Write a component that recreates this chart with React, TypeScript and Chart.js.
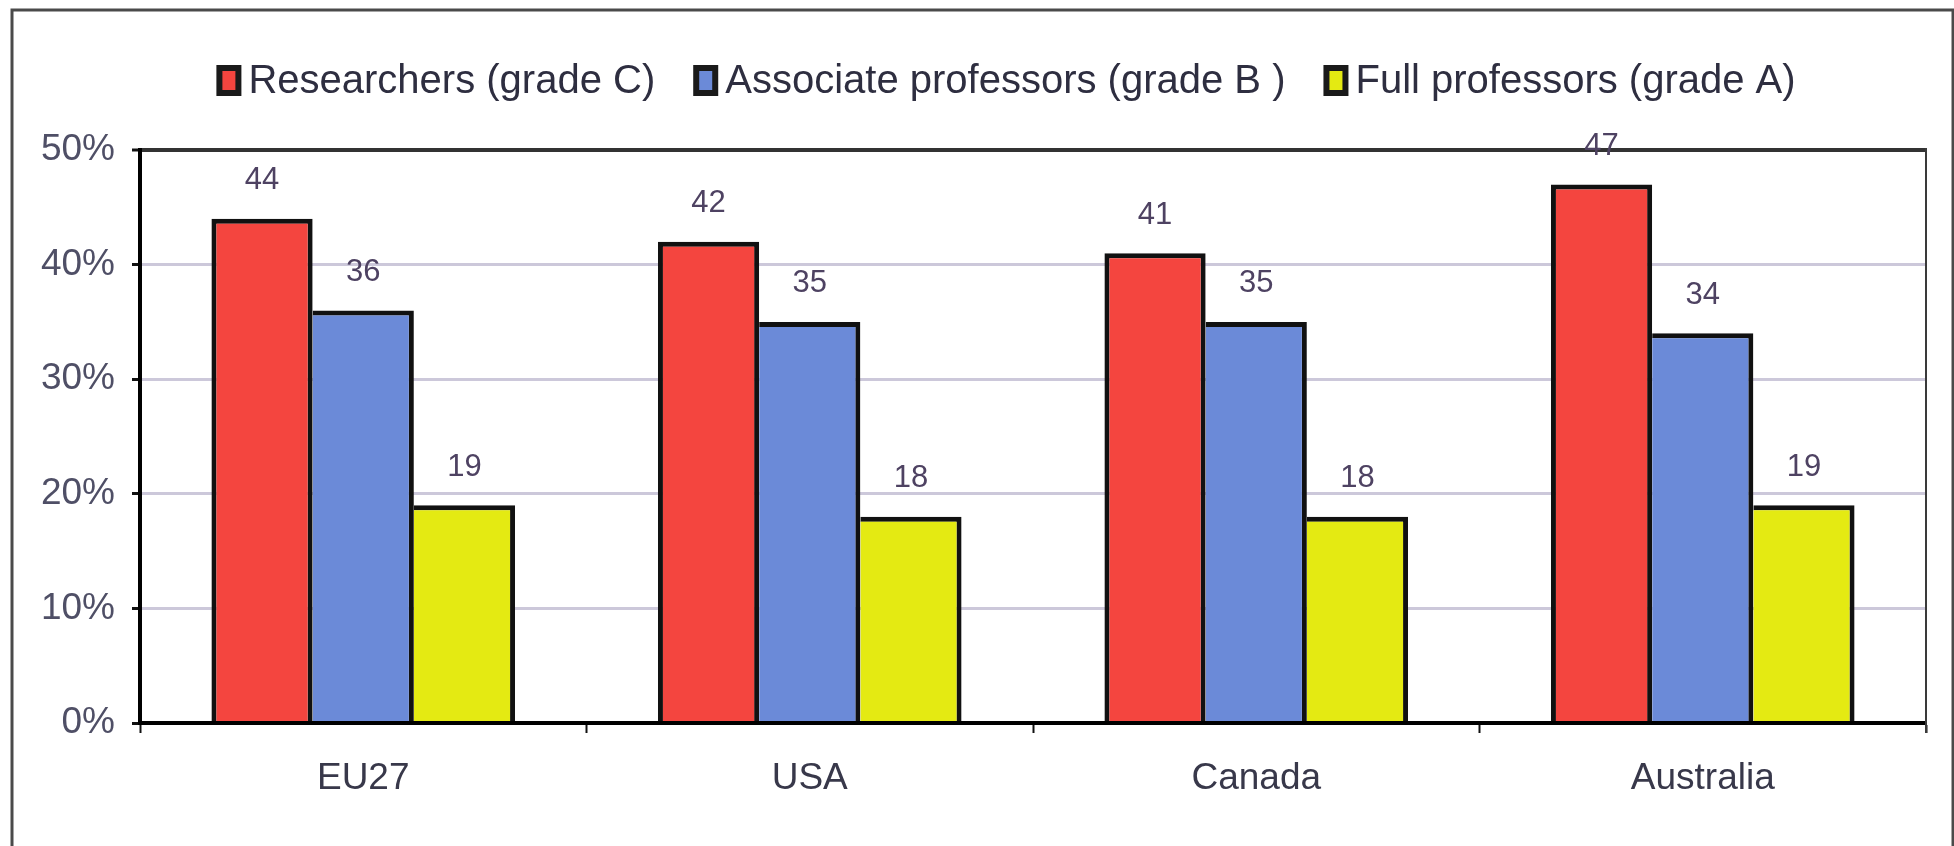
import React, { useEffect, useRef } from "react";
import { Chart, registerables } from "chart.js";

Chart.register(...registerables);

const categories = ["EU27", "USA", "Canada", "Australia"];
const seriesLabels = [
  "Researchers (grade C)",
  "Associate professors (grade B )",
  "Full professors (grade A)",
];
const researchers = [44, 42, 41, 47];
const associateProfessors = [36, 35, 35, 34];
const fullProfessors = [19, 18, 18, 19];
const yTickValues = [0, 10, 20, 30, 40, 50];
const yTickLabels = ["0%", "10%", "20%", "30%", "40%", "50%"];

const FONT = '"Liberation Sans", Arial, Helvetica, sans-serif';
const seriesColors = ["#F4453F", "#6B8AD8", "#E4EA12"];

const framePlugin = {
  id: "frame",
  beforeDraw(chart: any) {
    const { ctx, width, height } = chart;
    ctx.save();
    ctx.fillStyle = "#ffffff";
    ctx.fillRect(0, 0, width, height);
    ctx.strokeStyle = "#4a4a4a";
    ctx.lineWidth = 3;
    ctx.strokeRect(12, 10, width - 13, height + 20);
    ctx.restore();
  },
  afterDraw(chart: any) {
    const { ctx, chartArea } = chart;
    ctx.save();
    ctx.strokeStyle = "#3a3a3a";
    ctx.lineWidth = 2;
    ctx.beginPath();
    ctx.moveTo(chartArea.right, chartArea.top - 2);
    ctx.lineTo(chartArea.right, chartArea.bottom + 10);
    ctx.stroke();
    ctx.restore();
  },
};

const dataLabelPlugin = {
  id: "dataLabels",
  afterDatasetsDraw(chart: any) {
    const ctx = chart.ctx;
    ctx.save();
    ctx.font = `31px ${FONT}`;
    ctx.fillStyle = "#4e4262";
    ctx.textAlign = "center";
    ctx.textBaseline = "middle";
    chart.data.datasets.forEach((ds: any, i: number) => {
      const meta = chart.getDatasetMeta(i);
      meta.data.forEach((el: any, j: number) => {
        ctx.fillText(String(ds.data[j]), el.x, el.y - 38);
      });
    });
    ctx.restore();
  },
};

const legendPlugin = {
  id: "customLegend",
  afterDraw(chart: any) {
    const ctx = chart.ctx;
    ctx.save();
    ctx.font = `40px ${FONT}`;
    const boxW = 25;
    const boxH = 31;
    const gapText = 7;
    const gapItem = 38;
    const items = chart.data.datasets.map((ds: any) => ({
      label: ds.label as string,
      color: ds.backgroundColor as string,
      w: ctx.measureText(ds.label).width,
    }));
    const total =
      items.reduce((s: number, it: any) => s + boxW + gapText + it.w, 0) +
      gapItem * (items.length - 1);
    let x = chart.width / 2 + 29 - total / 2;
    const boxTop = 65;
    ctx.textAlign = "left";
    ctx.textBaseline = "middle";
    items.forEach((it: any) => {
      ctx.fillStyle = "#1a1a1a";
      ctx.fillRect(x, boxTop, boxW, boxH);
      ctx.fillStyle = it.color;
      ctx.fillRect(x + 6, boxTop + 6, boxW - 12, boxH - 12);
      ctx.fillStyle = "#2e2e40";
      ctx.fillText(it.label, x + boxW + gapText, 82);
      x += boxW + gapText + it.w + gapItem;
    });
    ctx.restore();
  },
};

export default function App() {
  const canvasRef = useRef<HTMLCanvasElement | null>(null);

  useEffect(() => {
    document.body.style.margin = "0";
    const canvas = canvasRef.current;
    if (!canvas) return;
    Chart.defaults.font.family = FONT;
    const chart = new Chart(canvas, {
      type: "bar",
      data: {
        labels: categories,
        datasets: [
          {
            label: seriesLabels[0],
            data: researchers,
            backgroundColor: seriesColors[0],
            borderColor: "#111111",
            borderWidth: { top: 5, left: 5, right: 5, bottom: 0 },
          },
          {
            label: seriesLabels[1],
            data: associateProfessors,
            backgroundColor: seriesColors[1],
            borderColor: "#111111",
            borderWidth: { top: 5, left: 0, right: 5, bottom: 0 },
          },
          {
            label: seriesLabels[2],
            data: fullProfessors,
            backgroundColor: seriesColors[2],
            borderColor: "#111111",
            borderWidth: { top: 5, left: 0, right: 5, bottom: 0 },
          },
        ],
      },
      options: {
        animation: false,
        responsive: false,
        devicePixelRatio: 1,
        layout: { padding: { top: 150, right: 28, left: 0, bottom: 0 } },
        datasets: { bar: { categoryPercentage: 0.68, barPercentage: 1.0 } },
        plugins: {
          legend: { display: false },
          tooltip: { enabled: false },
        },
        scales: {
          x: {
            grid: {
              offset: true,
              drawOnChartArea: false,
              drawTicks: true,
              tickLength: 10,
              tickColor: "#111111",
              tickWidth: 2,
            },
            border: { display: true, color: "#000000", width: 4, z: 1 },
            ticks: {
              color: "#38384a",
              font: { family: FONT, size: 37 },
              padding: 24,
            },
            afterFit: (s: any) => {
              s.height = 123;
            },
          },
          y: {
            min: yTickValues[0],
            max: yTickValues[yTickValues.length - 1],
            afterBuildTicks: (s: any) => {
              s.ticks = yTickValues.map((v) => ({ value: v }));
            },
            ticks: {
              color: "#4f4f66",
              font: { family: FONT, size: 37 },
              padding: 17,
              callback: (_v: any, i: number) => yTickLabels[i],
            },
            grid: {
              color: (c: any) =>
                c.tick && c.tick.value === 50 ? "#333333" : "#CCC8DA",
              lineWidth: (c: any) => (c.tick && c.tick.value === 50 ? 4 : 3),
              drawTicks: true,
              tickLength: 8,
              tickColor: "#111111",
              tickWidth: 3,
            },
            border: { display: true, color: "#000000", width: 4, z: 1 },
            afterFit: (s: any) => {
              s.width = 140;
            },
          },
        },
      },
      plugins: [framePlugin, dataLabelPlugin, legendPlugin],
    } as any);
    return () => chart.destroy();
  }, []);

  return (
    <canvas
      ref={canvasRef}
      width={1954}
      height={846}
      style={{ display: "block", width: "1954px", height: "846px" }}
    />
  );
}
